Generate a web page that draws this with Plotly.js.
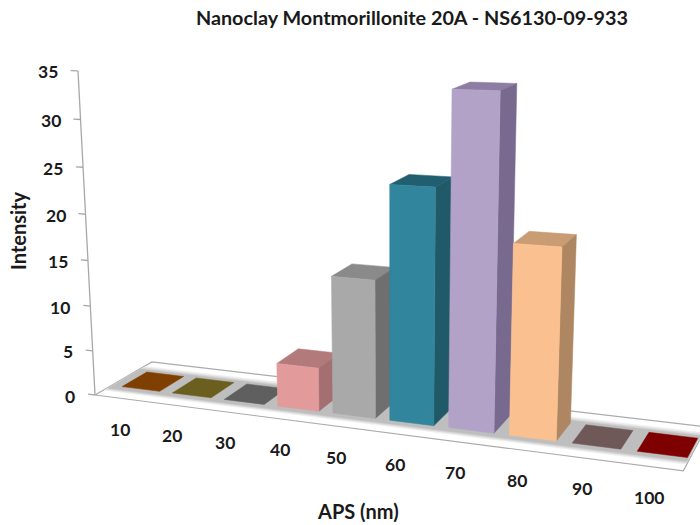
<!DOCTYPE html>
<html>
<head>
<meta charset="utf-8">
<script src="https://cdn.plot.ly/plotly-3.0.1.min.js"></script>
<style>html,body{margin:0;padding:0;background:#fff}#chart{width:700px;height:525px}</style>
</head>
<body>
<div id="chart"></div>
<script>
const categories = ['10','20','30','40','50','60','70','80','90','100'];
const intensity = [0, 0, 0, 4.7, 14.6, 24.4, 33.9, 19.4, 0, 0];
const frontColors = ['#7F3F00','#6B5F20','#5F5F5F','#E39A9B','#A9A9A9','#31859C','#B3A2C7','#FBC08F','#6F5858','#7E0000'];
const topColors   = ['#7F3F00','#6B5F20','#5F5F5F','#B27A7B','#8A8A8A','#215F70','#8D7DA3','#C99C74','#6F5858','#7E0000'];
const sideColors  = ['#7F3F00','#6B5F20','#5F5F5F','#A36F70','#6F6F6F','#205968','#786A8E','#AF8662','#6F5858','#7E0000'];
const valueTicks = [0,5,10,15,20,25,30,35];

// Perspective camera of the 3-D column chart: vanishing points and origin on the page.
const origin = [95,395], vpX = [-3200,-30], vpY = [1000,-130], vpZ = [392,6061];
const lamX = -0.01515, lamY = 0.0671, lamZ = -0.0541/35;
function project(X,Y,Z){
  const a = lamX*X, b = lamY*Y, c = lamZ*Z, w = 1+a+b+c;
  return [(a*vpX[0]+b*vpY[0]+c*vpZ[0]+origin[0])/w, (a*vpX[1]+b*vpY[1]+c*vpZ[1]+origin[1])/w];
}
const traces = [];
function poly(pts,color,lineColor){
  const p = pts.map(q=>project(q[0],q[1],q[2]));
  p.push(p[0]);
  traces.push({type:'scatter',mode:'lines',x:p.map(q=>q[0]),y:p.map(q=>q[1]),fill:'toself',fillcolor:color,
    line:{color:lineColor||color,width:lineColor?1.2:0.5},hoverinfo:'skip',showlegend:false});
}
function segment(a,b){
  const p=[project(...a),project(...b)];
  traces.push({type:'scatter',mode:'lines',x:p.map(q=>q[0]),y:p.map(q=>q[1]),
    line:{color:'#A8A8A8',width:1.3},hoverinfo:'skip',showlegend:false});
}
const nCat = categories.length;
// floor plate
poly([[0,0,0],[nCat,0,0],[nCat,1,0],[0,1,0]],'#FFFFFF','#ABABAB');
[[0.14,0.86,'#EDEDED'],[0.17,0.82,'#D6D6D6'],[0.2,0.78,'#BEBEBE']].forEach(b=>{
  poly([[0.02,b[0],0],[nCat-0.02,b[0],0],[nCat-0.02,b[1],0],[0.02,b[1],0]],b[2]);
});
// value axis
segment([0,0,0],[0,0,35]);
valueTicks.forEach(v=>segment([0,0,v],[-0.14,0,v]));
// columns
const x0=0.21,x1=0.96,y0=0.28,y1=0.72;
intensity.forEach((v,i)=>{
  const a=i+x0,b=i+x1;
  poly([[a,y0,v],[b,y0,v],[b,y1,v],[a,y1,v]],topColors[i]);
  if(v>0){
    poly([[b,y0,0],[b,y1,0],[b,y1,v],[b,y0,v]],sideColors[i]);
    poly([[a,y0,0],[b,y0,0],[b,y0,v],[a,y0,v]],frontColors[i]);
  }
});
const fontFam='Lato, "Open Sans", sans-serif';
const annotations=[];
categories.forEach((c,i)=>{
  const p=project(i+0.5,0,0);
  annotations.push({x:p[0],y:p[1],yshift:-31,text:c,showarrow:false,xanchor:'center',yanchor:'middle',
    font:{family:fontFam,size:17.5,color:'#1a1a1a',weight:700}});
});
valueTicks.forEach(v=>{
  const p=project(0,0,v);
  annotations.push({x:p[0],y:p[1],xshift:-18,yshift:-1,text:String(v),showarrow:false,xanchor:'right',yanchor:'middle',
    font:{family:fontFam,size:17.5,color:'#1a1a1a',weight:700}});
});
annotations.push({x:358,y:511,text:'APS (nm)',showarrow:false,xanchor:'center',yanchor:'middle',
  font:{family:fontFam,size:20,color:'#1a1a1a',weight:700}});
annotations.push({x:18,y:231,text:'Intensity',textangle:-90,showarrow:false,xanchor:'center',yanchor:'middle',
  font:{family:fontFam,size:20,color:'#1a1a1a',weight:700}});
const layout={
  width:700,height:525,
  margin:{l:0,r:0,t:0,b:0},
  paper_bgcolor:'#fff',plot_bgcolor:'#fff',showlegend:false,
  title:{text:'Nanoclay Montmorillonite 20A - NS6130-09-933',x:412/700,xanchor:'center',y:1-18/525,yanchor:'middle',
    font:{family:fontFam,size:19.8,color:'#1a1a1a',weight:700}},
  xaxis:{range:[0,700],visible:false,fixedrange:true},
  yaxis:{range:[525,0],visible:false,fixedrange:true},
  annotations
};
Plotly.newPlot('chart',traces,layout,{displayModeBar:false,staticPlot:true});
</script>
</body>
</html>
